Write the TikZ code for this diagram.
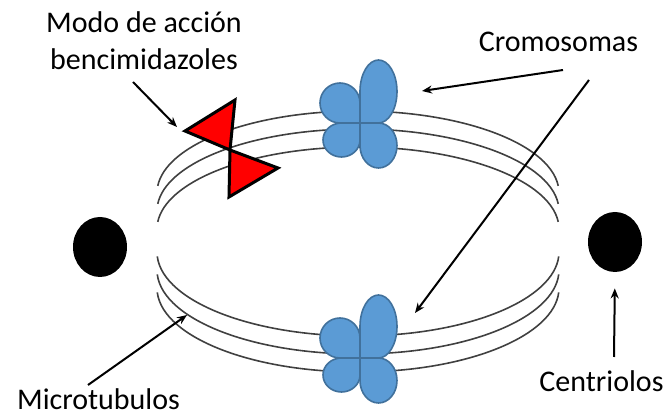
\documentclass[tikz,border=0pt]{standalone}
\usepackage{fontspec}
\setmainfont{Carlito}
\usetikzlibrary{arrows.meta,shapes.geometric}

\definecolor{cromazul}{HTML}{5B9BD5}
\definecolor{cromborde}{HTML}{41719C}
\definecolor{tubogris}{HTML}{404040}

\begin{document}
\begin{tikzpicture}
  [x=0.5pt,y=0.5pt,
   texto/.style={inner sep=0pt,font=\fontsize{15}{18.5}\selectfont},
   flecha/.style={-{Stealth[length=5pt,width=4pt]},line width=1pt},
   tubo/.style={tubogris,line width=0.8pt},
   lobulo/.style={fill=cromazul,draw=cromborde,line width=0.8pt},
   lazo/.style={fill=red,draw=black,line width=1.5pt,line join=miter},
   centriolo/.style={ellipse,fill=black,inner sep=0pt,minimum width=27pt,minimum height=30pt}]
  \useasboundingbox (0,0) rectangle (666,418);

  % microtubulos
  \foreach \k in {0,1,2} {
    \draw[tubo] (358,225-18*\k) ++(5:201 and 82)
      arc[start angle=5,end angle=175,x radius=201,y radius=82];
    \draw[tubo] (358,166-18*\k) ++(183:201 and 84)
      arc[start angle=183,end angle=357,x radius=201,y radius=84];
  }

  % cromosomas
  \foreach \cy in {295,60} {
    \begin{scope}[shift={(360,\cy)}]
      \draw[lobulo] (0,0) -- (0,20) arc[start angle=0,end angle=270,radius=20] -- cycle;
      \draw[lobulo] (0,0) -- (18.5,0) arc[start angle=-90,end angle=180,x radius=18.5,y radius=31.5] -- cycle;
      \draw[lobulo] (0,0) -- (0,-17) arc[start angle=0,end angle=-270,x radius=18.5,y radius=17] -- cycle;
      \draw[lobulo] (0,0) -- (0,-22.5) arc[start angle=180,end angle=450,x radius=18.5,y radius=22.5] -- cycle;
    \end{scope}
  }

  % bencimidazol
  \draw[lazo] (185,287) -- (235,318) -- (230,268) -- cycle;
  \draw[lazo] (230,268) -- (278,250) -- (229,221) -- cycle;

  \node[centriolo] (centIzq) at (100,171) {};
  \node[centriolo] (centDer) at (615,176) {};

  \node[texto,align=center] (modo) at (144,377) {Modo de acción\\bencimidazoles};
  \node[texto,anchor=base] (cromos) at (558.5,366) {Cromosomas};
  \node[texto,anchor=base] (micro) at (98.5,8) {Microtubulos};
  \node[texto,anchor=base] (centri) at (601.5,26) {Centriolos};

  \coordinate (modoPie) at (133,336);
  \coordinate (bloqueo) at (177,291);
  \coordinate (cromPie1) at (563,348);
  \coordinate (cromArr) at (422,327);
  \coordinate (cromPie2) at (589,338);
  \coordinate (cromAbj) at (415,105);
  \coordinate (microPie) at (88,33);
  \coordinate (tuboAbj) at (187,103);
  \coordinate (centPie) at (614,61);

\foreach \de/\a in {modoPie/bloqueo,cromPie1/cromArr,cromPie2/cromAbj,microPie/tuboAbj}
    \draw[flecha] (\de) -- (\a);
  \draw[flecha,shorten >=8pt] (centPie) -- (centDer.south);

\end{tikzpicture}
\end{document}
